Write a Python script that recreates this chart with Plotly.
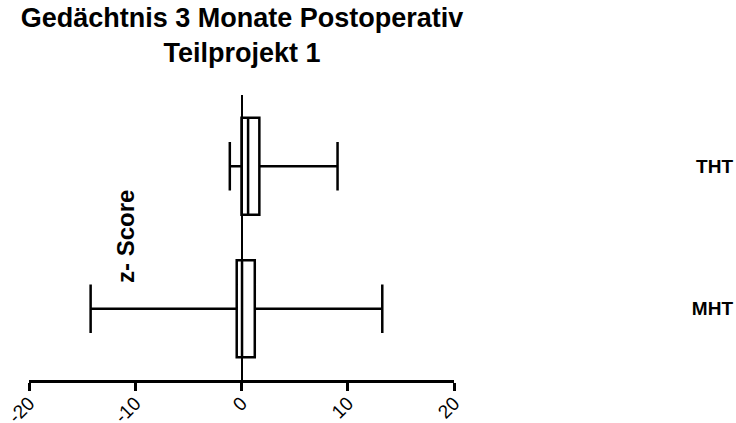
import plotly.graph_objects as go

# Box statistics (z-scores)
groups = ["MHT", "THT"]
lower = [-14.2, -1.1]
q1 = [-0.45, 0.0]
median = [0.05, 0.62]
q3 = [1.25, 1.68]
upper = [13.25, 9.04]

x_ticks = [-20, -10, 0, 10, 20]
x_tick_text = ["-20", "-10", "0", "10", "20"]

FONT = "Liberation Sans, Arial, sans-serif"

fig = go.Figure()
fig.add_trace(go.Box(
    y=groups, q1=q1, median=median, q3=q3,
    lowerfence=lower, upperfence=upper,
    orientation="h",
    line=dict(color="black", width=2.5),
    fillcolor="rgba(0,0,0,0)",
    whiskerwidth=0.5,
    boxpoints=False,
    showlegend=False,
    hoverinfo="skip",
))

W, H = 736, 423
L, R, T, B = 29, 3, 95, 43
plot_w = W - L - R
plot_h = H - T - B

fig.update_layout(
    width=W, height=H,
    margin=dict(l=L, r=R, t=T, b=B),
    paper_bgcolor="white", plot_bgcolor="white",
    font=dict(family=FONT, color="black"),
    boxgap=0.32, boxgroupgap=0,
    title=dict(
        text="<b>Gedächtnis 3 Monate Postoperativ<br>Teilprojekt 1</b>",
        x=242 / W, xref="container", xanchor="center",
        y=1 - 27 / H, yref="container", yanchor="top",
        font=dict(size=27, family=FONT, color="black"),
    ),
    xaxis=dict(
        domain=[0, 425 / plot_w],
        range=[-20, 20],
        tickvals=x_ticks, ticktext=x_tick_text,
        tickangle=-45,
        ticks="outside", ticklen=8, tickwidth=2.5, tickcolor="black",
        showline=True, linewidth=2.5, linecolor="black",
        showgrid=False,
        zeroline=True, zerolinewidth=2, zerolinecolor="black",
        tickfont=dict(size=19, family=FONT, color="black"),
        tickprefix="<b>", ticksuffix="</b>",
        ticklabelstandoff=-6,
        ticklabeloverflow="allow",
        automargin=False,
    ),
    yaxis=dict(
        anchor="free", position=1, side="left",
        range=[-0.5, 1.5],
        showline=False, ticks="", showgrid=False, zeroline=False,
        tickfont=dict(size=19, family=FONT, color="black"),
        tickprefix="<b>", ticksuffix="</b>",
        ticklabeloverflow="allow",
        automargin=False,
    ),
)

fig.add_annotation(
    text="<b>z- Score</b>", textangle=-90,
    x=(125 - L) / plot_w, y=(380 - 237) / plot_h, xref="paper", yref="paper",
    xanchor="center", yanchor="middle",
    showarrow=False, font=dict(size=24, family=FONT, color="black"),
)

# drop the default page margin so the figure fills the window exactly
fig.write_html(
    "out.html",
    config={"displayModeBar": False},
    post_script="document.body.style.margin='0';document.body.style.overflow='hidden';",
)
